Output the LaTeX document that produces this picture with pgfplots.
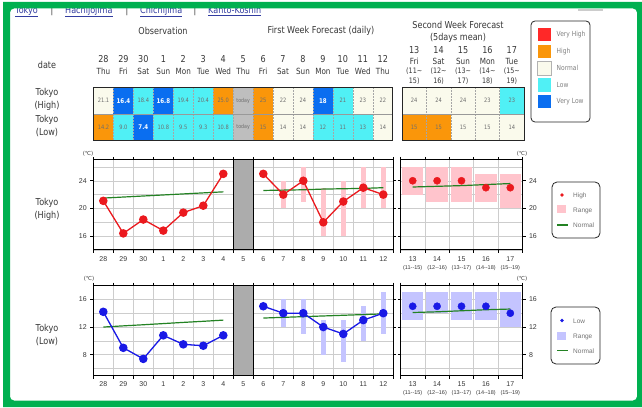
\documentclass[border=0pt]{standalone}
\usepackage{pgfplots}
\pgfplotsset{compat=1.18}
\usepackage{fontspec}
\setmainfont{DejaVu Sans}[FakeStretch=0.85]
\newfontfamily\lib{Liberation Sans}
\newfontfamily\djfont{DejaVu Sans}
\definecolor{frameG}{RGB}{0,176,80}
\definecolor{cVH}{RGB}{255,40,40}
\definecolor{cH}{RGB}{250,150,10}
\definecolor{cN}{RGB}{250,250,236}
\definecolor{cL}{RGB}{80,240,245}
\definecolor{cVL}{RGB}{10,110,240}
\definecolor{cToday}{RGB}{190,190,190}
\definecolor{txt}{RGB}{55,55,55}
\definecolor{celltxt}{RGB}{110,110,110}
\definecolor{rangeR}{RGB}{255,196,204}
\definecolor{rangeB}{RGB}{196,196,255}
\definecolor{lineR}{RGB}{235,25,30}
\definecolor{lineB}{RGB}{25,25,230}
\definecolor{normG}{RGB}{35,130,35}
\definecolor{gridc}{RGB}{205,205,205}
\definecolor{band}{RGB}{172,172,172}
\definecolor{linkc}{RGB}{50,60,160}
\pgfplotsset{
 jma/.style={
  scale only axis, height=90pt,
  axis line style={line width=1pt, black},
  tick align=outside,
  major tick length=3pt, minor tick length=3pt,
  tick style={black, line width=0.6pt},
  major x tick style={draw=none},
  minor y tick style={draw=none},
  xminorgrids=true, ymajorgrids=true, yminorgrids=true,
  minor grid style={gridc, line width=0.5pt},
  major grid style={gridc, line width=0.5pt},
  ticklabel style={font=\lib\fontsize{7}{8}\selectfont, text=txt},
  /pgf/number format/assume math mode=true,
  clip mode=individual,
 },
 rng/.style={forget plot, draw=none, mark=none, error bars/.cd, y dir=both, y explicit, error mark=none, error bar style={line width=#1}},
}
\newcommand\cellT[5]{%
  \fill[#4] ({#1},{#2}) rectangle ++({#3},26.5);
  \node[font=\fontsize{6}{7}\selectfont, text=celltxt, inner sep=0pt] at ({#1+#3/2},{#2+13.25}) {#5};}
\begin{document}
\begin{tikzpicture}
\useasboundingbox (0pt,0pt) rectangle (642pt,407pt);
\fill[white] (0pt,0pt) rectangle (642pt,407pt);
% ---------- HIGH, left ----------
\begin{axis}[jma, at={(93.3pt,157pt)}, anchor=south west, width=300pt,
  xmin=-0.5, xmax=14.5, ymin=14, ymax=27,
  xtick={0,...,14}, xticklabels={28,29,30,1,2,3,4,5,6,7,8,9,10,11,12},
  minor xtick={-0.5,0.5,...,14.5},
  ytick={16,20,24}, minor ytick={14,18,22,26}]
\addplot[fill=band, draw=black, line width=1pt, forget plot] coordinates {(6.5,14) (6.5,27) (7.5,27) (7.5,14)} -- cycle;
\addplot[rng=5pt, error bar style={draw=rangeR}] coordinates {
 (9,22) +- (0,2) (10,23.5) +- (0,2.5) (11,19.5) +- (0,3.5) (12,20) +- (0,4) (13,23) +- (0,3) (14,23) +- (0,3)};
\addplot[normG, line width=1.2pt] coordinates {(0,21.5) (1,21.65) (2,21.8) (3,21.95) (4,22.1) (5,22.25) (6,22.4)};
\addplot[normG, line width=1.2pt] coordinates {(8,22.6) (9,22.65) (10,22.7) (11,22.8) (12,22.85) (13,22.9) (14,23.0)};
\addplot[lineR, line width=1.3pt, mark=*, mark size=3.6pt, mark options={fill=lineR, draw=lineR}] coordinates {(0,21.1) (1,16.4) (2,18.4) (3,16.8) (4,19.4) (5,20.4) (6,25.0)};
\addplot[lineR, line width=1.3pt, mark=*, mark size=3.6pt, mark options={fill=lineR, draw=lineR}] coordinates {(8,25) (9,22) (10,24) (11,18) (12,21) (13,23) (14,22)};
\end{axis}
% ---------- HIGH, right ----------
\begin{axis}[jma, at={(400.5pt,157pt)}, anchor=south west, width=122pt,
  xmin=-0.5, xmax=4.5, ymin=14, ymax=27,
  xtick={0,...,4}, minor xtick={-0.5,0.5,...,4.5},
  xticklabels={{13\\{\fontsize{5.5}{6}\selectfont(11--15)}},{14\\{\fontsize{5.5}{6}\selectfont(12--16)}},{15\\{\fontsize{5.5}{6}\selectfont(13--17)}},{16\\{\fontsize{5.5}{6}\selectfont(14--18)}},{17\\{\fontsize{5.5}{6}\selectfont(15--19)}}},
  xticklabel style={align=center},
  ytick={16,20,24}, minor ytick={14,18,22,26}, yticklabel pos=right]
\addplot[rng=21.5pt, error bar style={draw=rangeR}] coordinates {
 (0,24) +- (0,2) (1,23.5) +- (0,2.5) (2,23.5) +- (0,2.5) (3,23) +- (0,2) (4,22.5) +- (0,2.5)};
\addplot[normG, line width=1.2pt] coordinates {(0,23.1) (1,23.2) (2,23.3) (3,23.45) (4,23.6)};
\addplot[only marks, mark=*, mark size=3.6pt, mark options={fill=lineR, draw=lineR}] coordinates {(0,24) (1,24) (2,24) (3,23) (4,23)};
\end{axis}
% ---------- LOW, left ----------
\begin{axis}[jma, at={(93.3pt,31.5pt)}, anchor=south west, width=300pt,
  xmin=-0.5, xmax=14.5, ymin=5, ymax=18,
  xtick={0,...,14}, xticklabels={28,29,30,1,2,3,4,5,6,7,8,9,10,11,12},
  minor xtick={-0.5,0.5,...,14.5},
  ytick={8,12,16}, minor ytick={6,10,14}]
\addplot[fill=band, draw=black, line width=1pt, forget plot] coordinates {(6.5,5) (6.5,18) (7.5,18) (7.5,5)} -- cycle;
\addplot[rng=5pt, error bar style={draw=rangeB}] coordinates {
 (9,14) +- (0,2) (10,13.5) +- (0,2.5) (11,10.5) +- (0,2.5) (12,10) +- (0,3) (13,12.5) +- (0,2.5) (14,14) +- (0,3)};
\addplot[normG, line width=1.2pt] coordinates {(0,12.0) (1,12.17) (2,12.33) (3,12.5) (4,12.67) (5,12.83) (6,13.0)};
\addplot[normG, line width=1.2pt] coordinates {(8,13.3) (9,13.4) (10,13.5) (11,13.6) (12,13.7) (13,13.8) (14,13.9)};
\addplot[lineB, line width=1.3pt, mark=*, mark size=3.6pt, mark options={fill=lineB, draw=lineB}] coordinates {(0,14.2) (1,9.0) (2,7.4) (3,10.8) (4,9.5) (5,9.3) (6,10.8)};
\addplot[lineB, line width=1.3pt, mark=*, mark size=3.6pt, mark options={fill=lineB, draw=lineB}] coordinates {(8,15) (9,14) (10,14) (11,12) (12,11) (13,13) (14,14)};
\end{axis}
% ---------- LOW, right ----------
\begin{axis}[jma, at={(400.5pt,31.5pt)}, anchor=south west, width=122pt,
  xmin=-0.5, xmax=4.5, ymin=5, ymax=18,
  xtick={0,...,4}, minor xtick={-0.5,0.5,...,4.5},
  xticklabels={{13\\{\fontsize{5.5}{6}\selectfont(11--15)}},{14\\{\fontsize{5.5}{6}\selectfont(12--16)}},{15\\{\fontsize{5.5}{6}\selectfont(13--17)}},{16\\{\fontsize{5.5}{6}\selectfont(14--18)}},{17\\{\fontsize{5.5}{6}\selectfont(15--19)}}},
  xticklabel style={align=center},
  ytick={8,12,16}, minor ytick={6,10,14}, yticklabel pos=right]
\addplot[rng=21.5pt, error bar style={draw=rangeB}] coordinates {
 (0,15) +- (0,2) (1,15.5) +- (0,1.5) (2,15) +- (0,2) (3,15) +- (0,2) (4,14.5) +- (0,2.5)};
\addplot[normG, line width=1.2pt] coordinates {(0,14.1) (1,14.2) (2,14.35) (3,14.5) (4,14.6)};
\addplot[only marks, mark=*, mark size=3.6pt, mark options={fill=lineB, draw=lineB}] coordinates {(0,15) (1,15) (2,15) (3,15) (4,14)};
\end{axis}
% ---------- page elements (pixel coordinates, y downward) ----------
\begin{scope}[shift={(0pt,407pt)}, x=1pt, y=-1pt]
% links
\begin{scope}[font=\fontsize{9.5}{10}\selectfont]
\node[anchor=base west, text=linkc, inner sep=0pt] at (15,13.3) {\underline{Tokyo}};
\node[anchor=base, text=txt, inner sep=0pt] at (52,13.3) {|};
\node[anchor=base west, text=linkc, inner sep=0pt] at (65,13.3) {\underline{Hachijojima}};
\node[anchor=base, text=txt, inner sep=0pt] at (127,13.3) {|};
\node[anchor=base west, text=linkc, inner sep=0pt] at (140,13.3) {\underline{Chichijima}};
\node[anchor=base, text=txt, inner sep=0pt] at (195,13.3) {|};
\node[anchor=base west, text=linkc, inner sep=0pt] at (208,13.3) {\underline{Kanto-Koshin}};
\end{scope}
\draw[gray!40, line width=1.5pt] (578,10) -- (603,10);
% headers
\begin{scope}[text=txt, inner sep=0pt]
\node[font=\fontsize{9.5}{10}\selectfont] at (163,31) {Observation};
\node[font=\fontsize{9.5}{10}\selectfont] at (321,31) {First Week Forecast (daily)};
\node[font=\fontsize{9.5}{10}\selectfont] at (458,25) {Second Week Forecast};
\node[font=\fontsize{9.5}{10}\selectfont] at (458,37.5) {(5days mean)};
\node[font=\fontsize{9.5}{10}\selectfont] at (47,65) {date};
\node[font=\fontsize{9.5}{10}\selectfont] at (47,93) {Tokyo};
\node[font=\fontsize{9.5}{10}\selectfont] at (47,106) {(High)};
\node[font=\fontsize{9.5}{10}\selectfont] at (47,120) {Tokyo};
\node[font=\fontsize{9.5}{10}\selectfont] at (47,132.5) {(Low)};
\node[font=\fontsize{9.5}{10}\selectfont] at (47,203) {Tokyo};
\node[font=\fontsize{9.5}{10}\selectfont] at (47,215.5) {(High)};
\node[font=\fontsize{9.5}{10}\selectfont] at (47,329) {Tokyo};
\node[font=\fontsize{9.5}{10}\selectfont] at (47,341.5) {(Low)};
\foreach \d/\w [count=\i from 0] in {28/Thu,29/Fri,30/Sat,1/Sun,2/Mon,3/Tue,4/Wed,5/Thu,6/Fri,7/Sat,8/Sun,9/Mon,10/Tue,11/Wed,12/Thu}{
  \node[font=\fontsize{9.5}{10}\selectfont] at ({93.5+19.95*(\i+0.5)},59) {\d};
  \node[font=\fontsize{8.5}{9}\selectfont] at ({93.5+19.95*(\i+0.5)},71.5) {\w};}
\foreach \d/\w/\a/\b [count=\i from 0] in {13/Fri/11/15,14/Sat/12/16,15/Sun/13/17,16/Mon/14/18,17/Tue/15/19}{
  \node[font=\fontsize{9.5}{10}\selectfont] at ({402+24.4*(\i+0.5)},50) {\d};
  \node[font=\fontsize{8.5}{9}\selectfont] at ({402+24.4*(\i+0.5)},61.5) {\w};
  \node[font=\fontsize{7.5}{8}\selectfont] at ({402+24.4*(\i+0.5)},71.5) {(\a\textasciitilde};
  \node[font=\fontsize{7.5}{8}\selectfont] at ({402+24.4*(\i+0.5)},81.5) {\b)};}
\end{scope}
% table 1
\foreach \c/\t [count=\i from 0] in {cN/21.1,cVL/{\bfseries\color{white}\fontsize{6.5}{7}\selectfont 16.4},cL/18.4,cVL/{\bfseries\color{white}\fontsize{6.5}{7}\selectfont 16.8},cL/19.4,cL/20.4,cH/25.0,cToday/{\fontsize{5.5}{6}\selectfont today},cH/25,cN/22,cN/24,cVL/{\bfseries\color{white}\fontsize{6.5}{7}\selectfont 18},cL/21,cN/23,cN/22}{
  \cellT{93.5+19.95*\i}{87.5}{19.95}{\c}{\t}}
\foreach \c/\t [count=\i from 0] in {cH/14.2,cL/9.0,cVL/{\bfseries\color{white}\fontsize{6.5}{7}\selectfont 7.4},cL/10.8,cL/9.5,cL/9.3,cL/10.8,cToday/{\fontsize{5.5}{6}\selectfont today},cH/15,cN/14,cN/14,cL/12,cL/11,cL/13,cN/14}{
  \cellT{93.5+19.95*\i}{114}{19.95}{\c}{\t}}
\foreach \i in {1,...,14}{\draw[gray!70, line width=0.5pt, dash pattern=on 1.5pt off 1.5pt] ({93.5+19.95*\i},87.5) -- ({93.5+19.95*\i},140.5);}
\draw[gray!80, line width=0.6pt] (93.5,114) -- (392.75,114);
\draw[gray!30!black, line width=0.8pt] (93.5,87.5) rectangle (392.75,140.5);
% table 2
\foreach \c/\t [count=\i from 0] in {cN/24,cN/24,cN/24,cN/23,cL/23}{
  \cellT{402+24.4*\i}{87.5}{24.4}{\c}{\t}}
\foreach \c/\t [count=\i from 0] in {cH/15,cH/15,cN/15,cN/15,cN/14}{
  \cellT{402+24.4*\i}{114}{24.4}{\c}{\t}}
\foreach \i in {1,...,4}{\draw[gray!70, line width=0.5pt, dash pattern=on 1.5pt off 1.5pt] ({402+24.4*\i},87.5) -- ({402+24.4*\i},140.5);}
\draw[gray!80, line width=0.6pt] (402,114) -- (524,114);
\draw[gray!30!black, line width=0.8pt] (402,87.5) rectangle (524,140.5);
% top legend
\draw[gray!30!black, line width=0.8pt, rounded corners=4pt] (531,21) rectangle (590,122);
\foreach \c/\t/\y in {cVH/Very High/28, cH/High/44.7, cN/Normal/61.4, cL/Low/78.1, cVL/Very Low/94.8}{
  \fill[\c] (537.5,\y) rectangle ++(13.5,13.5);
  \node[anchor=west, font=\fontsize{7}{8}\selectfont, text=gray, inner sep=0pt] at (556.5,{\y+6.75}) {\t};}
\draw[gray!60, line width=0.4pt] (537.5,61.4) rectangle ++(13.5,13.5);
% degree labels
\begin{scope}[font=\djfont\fontsize{5.5}{6}\selectfont, text=txt, inner sep=0pt]
\node at (88,153.5) {(℃)};
\node at (522,153.5) {(℃)};
\node at (89,279) {(℃)};
\node at (522,279) {(℃)};
\end{scope}
% chart legends
\begin{scope}[font=\lib\fontsize{6.5}{7}\selectfont, text=gray!90!black, inner sep=0pt]
\draw[gray!30!black, line width=0.8pt, rounded corners=5pt] (552,182) rectangle (600,238);
\fill[lineR] (562,195) circle (1.8);
\node[anchor=west] at (573,195.5) {High};
\fill[rangeR] (557,205) rectangle (566,213.5);
\node[anchor=west] at (573,210.5) {Range};
\draw[normG, line width=1.5pt] (557,225) -- (568,225);
\node[anchor=west] at (573,225.5) {Normal};
\draw[gray!30!black, line width=0.8pt, rounded corners=5pt] (551,307) rectangle (600,364);
\fill[lineB] (562,320.5) circle (1.8);
\node[anchor=west] at (573,321) {Low};
\fill[rangeB] (557,331.5) rectangle (566,340);
\node[anchor=west] at (573,336.5) {Range};
\draw[normG, line width=1.5pt] (557,350.5) -- (568,350.5);
\node[anchor=west] at (573,351) {Normal};
\end{scope}
% green frame
\fill[frameG, even odd rule] (3,2) rectangle (642,407) [rounded corners=4pt] (10,8.5) rectangle (637,400.5);
\end{scope}
\end{tikzpicture}
\end{document}
